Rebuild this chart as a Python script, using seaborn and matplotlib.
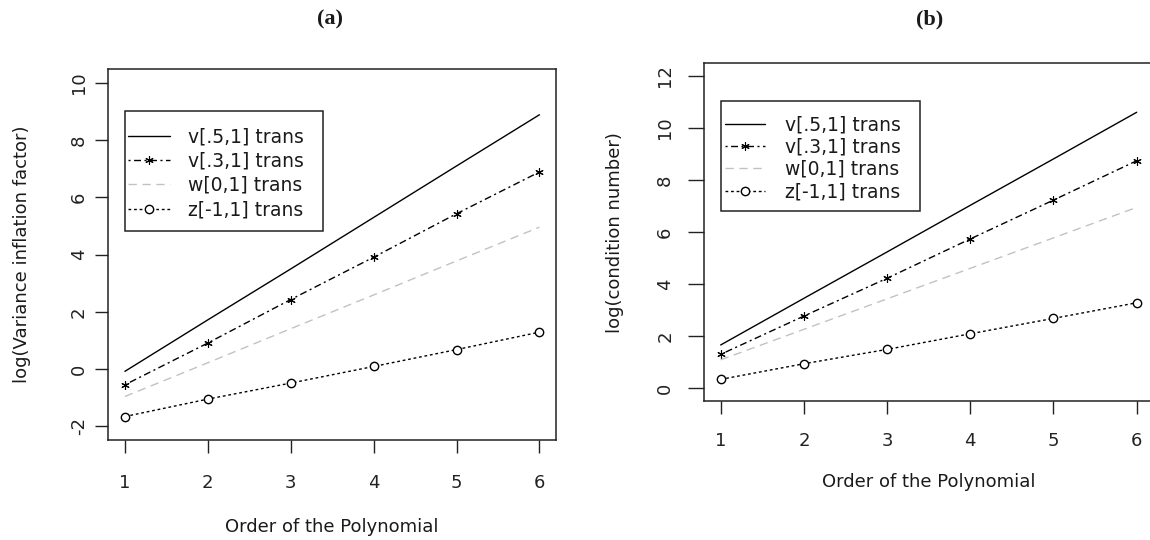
import matplotlib
matplotlib.use("Agg")
import matplotlib.pyplot as plt
from matplotlib.patches import Rectangle
import numpy as np
import pandas as pd
import seaborn as sns

# ---------------- data ----------------
orders = [1, 2, 3, 4, 5, 6]
series_names = ["v[.5,1] trans", "v[.3,1] trans", "w[0,1] trans", "z[-1,1] trans"]

# panel (a): log(Variance inflation factor)
vif_v5 = [-0.08, 1.72, 3.50, 5.30, 7.10, 8.89]
vif_v3 = [-0.55, 0.91, 2.43, 3.91, 5.43, 6.89]
vif_w = [-0.96, 0.22, 1.41, 2.59, 3.78, 4.96]
vif_z = [-1.66, -1.05, -0.49, 0.09, 0.68, 1.29]

# panel (b): log(condition number)
cond_v5 = [1.67, 3.46, 5.24, 7.03, 8.81, 10.60]
cond_v3 = [1.31, 2.78, 4.23, 5.74, 7.23, 8.74]
cond_w = [1.10, 2.27, 3.44, 4.61, 5.78, 6.95]
cond_z = [0.35, 0.95, 1.50, 2.10, 2.69, 3.29]

a_yticks = [-2, 0, 2, 4, 6, 8, 10]
b_yticks = [0, 2, 4, 6, 8, 10, 12]
x_label = "Order of the Polynomial"
a_ylabel = "log(Variance inflation factor)"
b_ylabel = "log(condition number)"
titles = ["(a)", "(b)"]


def long_df(values_list):
    rows = []
    for name, vals in zip(series_names, values_list):
        for o, v in zip(orders, vals):
            rows.append({"order": o, "value": v, "series": name})
    return pd.DataFrame(rows)


df_a = long_df([vif_v5, vif_v3, vif_w, vif_z])
df_b = long_df([cond_v5, cond_v3, cond_w, cond_z])

# ---------------- style ----------------
sns.set_theme(style="ticks")
plt.rcParams["font.family"] = ["DejaVu Sans"]
plt.rcParams["axes.unicode_minus"] = False
plt.rcParams["axes.edgecolor"] = "#222222"
plt.rcParams["axes.linewidth"] = 1.1
plt.rcParams["xtick.color"] = "#222222"
plt.rcParams["ytick.color"] = "#222222"
plt.rcParams["text.color"] = "#1a1a1a"
plt.rcParams["axes.labelcolor"] = "#1a1a1a"

FS = 13
LFS = 13.5

line_styles = {
    series_names[0]: dict(color="black", linestyle="-"),
    series_names[1]: dict(color="black", linestyle=(0, (1.5, 2.5, 5, 2.5)),
                          marker=(6, 2, 0), markersize=6, markeredgewidth=0.8,
                          markeredgecolor="black"),
    series_names[2]: dict(color="#c2c2c2", linestyle=(0, (6, 4))),
    series_names[3]: dict(color="black", linestyle=(0, (2, 2)),
                          marker="o", markersize=6, markerfacecolor="white",
                          markeredgecolor="black", markeredgewidth=1.0),
}

fig = plt.figure(figsize=(11.5, 5.4), dpi=100)
axA = fig.add_axes([0.0942, 0.1852, 0.3893, 0.6865])
axB = fig.add_axes([0.6122, 0.2574, 0.3907, 0.6254])

panels = [
    dict(ax=axA, df=df_a, ylim=(-2.48, 10.48), yticks=a_yticks, ylabel=a_ylabel,
         ylen=9.4, ypad=5.4, xpad=14.8, xlab_y=-0.2347, ylab_x=-0.1934,
         leg_anchor=(0.044, 0.7195), box=(0.0373, 0.5646, 0.479, 0.888),
         handlelength=2.22, handletextpad=0.96, labelspacing=0.28),
    dict(ax=axB, df=df_b, ylim=(-0.48, 12.48), yticks=b_yticks, ylabel=b_ylabel,
         ylen=11.5, ypad=10.0, xpad=12.6, xlab_y=-0.239, ylab_x=-0.198,
         leg_anchor=(0.0467, 0.7187), box=(0.0372, 0.5635, 0.4807, 0.888),
         handlelength=2.13, handletextpad=1.07, labelspacing=0.17),
]

for p in panels:
    ax = p["ax"]
    df = p["df"]
    for name in series_names:
        sub = df[df["series"] == name]
        sns.lineplot(data=sub, x="order", y="value", ax=ax, label=name,
                     linewidth=1.0, errorbar=None, sort=False,
                     **line_styles[name])
    ax.set_xlim(0.8, 6.2)
    ax.set_ylim(*p["ylim"])
    ax.set_xticks(orders)
    ax.set_yticks(p["yticks"])
    ax.tick_params(axis="x", length=9.4, width=1.0, pad=p["xpad"], labelsize=FS)
    ax.tick_params(axis="y", length=p["ylen"], width=1.0, pad=p["ypad"],
                   labelsize=FS, labelrotation=90)
    for lbl in ax.get_yticklabels():
        lbl.set_va("center")
    ax.set_xlabel(x_label, fontsize=FS)
    ax.set_ylabel(p["ylabel"], fontsize=FS)
    ax.xaxis.set_label_coords(0.5, p["xlab_y"])
    ax.xaxis.label.set_va("center")
    ax.yaxis.set_label_coords(p["ylab_x"], 0.5)
    ax.yaxis.label.set_va("center")
    ax.grid(False)

    leg = ax.legend(loc="center left", bbox_to_anchor=p["leg_anchor"],
                    frameon=False, fontsize=LFS, borderpad=0, borderaxespad=0,
                    handlelength=p["handlelength"],
                    handletextpad=p["handletextpad"],
                    labelspacing=p["labelspacing"], numpoints=1)
    x0, y0, x1, y1 = p["box"]
    ax.add_patch(Rectangle((x0, y0), x1 - x0, y1 - y0, transform=ax.transAxes,
                           fill=False, edgecolor="#222222", linewidth=1.1,
                           zorder=5))

for tx, title in zip([330 / 1150, 930 / 1150], titles):
    fig.text(tx, 1 - 19 / 540, title, ha="center", va="center",
             fontsize=16, fontweight="bold",
             family=["Liberation Serif", "DejaVu Serif"])

fig.savefig("out.png", dpi=100, facecolor="white")
